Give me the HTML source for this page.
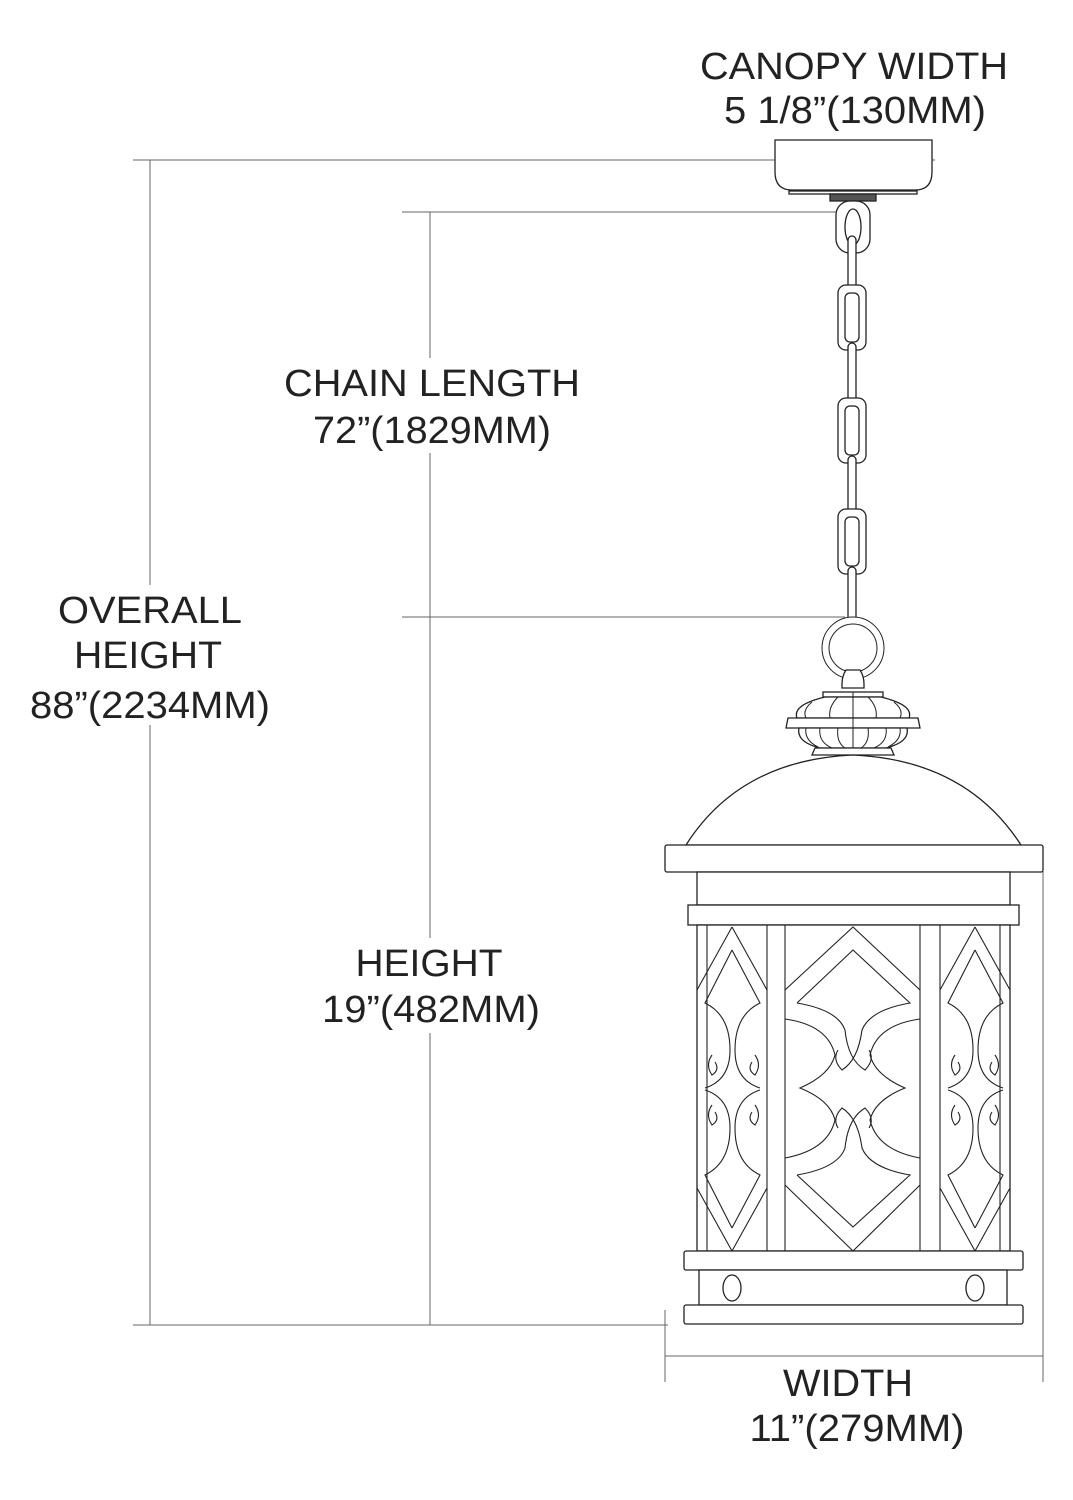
<!DOCTYPE html>
<html><head><meta charset="utf-8"><style>
html,body{margin:0;padding:0;background:#fff;}
svg{display:block;}
text{font-family:"Liberation Sans",sans-serif;font-size:38px;fill:#222;text-anchor:middle;}
</style></head><body>
<svg width="1073" height="1500" viewBox="0 0 1073 1500" xmlns="http://www.w3.org/2000/svg">
<g stroke="#666" stroke-width="1" fill="none">
<line x1="133" y1="160" x2="935" y2="160"/>
<line x1="150" y1="160" x2="150" y2="1325"/>
<line x1="133" y1="1325" x2="668" y2="1325"/>
<line x1="402" y1="212" x2="842" y2="212"/>
<line x1="402" y1="617" x2="845" y2="617"/>
<line x1="430" y1="212" x2="430" y2="1325"/>
<line x1="665" y1="1310" x2="665" y2="1382"/>
<line x1="1043" y1="860" x2="1043" y2="1382"/>
<line x1="665" y1="1356" x2="1043" y2="1356"/>
</g>
<rect x="25" y="585" width="250" height="140" fill="#fff"/>
<rect x="278" y="358" width="308" height="95" fill="#fff"/>
<rect x="315" y="938" width="230" height="95" fill="#fff"/>
<text x="854" y="79" textLength="308" lengthAdjust="spacingAndGlyphs">CANOPY WIDTH</text>
<text x="855" y="123" textLength="262" lengthAdjust="spacingAndGlyphs">5 1/8”(130MM)</text>
<text x="432" y="396" textLength="296" lengthAdjust="spacingAndGlyphs">CHAIN LENGTH</text>
<text x="432" y="443" textLength="238" lengthAdjust="spacingAndGlyphs">72”(1829MM)</text>
<text x="150" y="623" textLength="184" lengthAdjust="spacingAndGlyphs">OVERALL</text>
<text x="148" y="668" textLength="148" lengthAdjust="spacingAndGlyphs">HEIGHT</text>
<text x="150" y="718" textLength="240" lengthAdjust="spacingAndGlyphs">88”(2234MM)</text>
<text x="429" y="976" textLength="147" lengthAdjust="spacingAndGlyphs">HEIGHT</text>
<text x="431" y="1022" textLength="218" lengthAdjust="spacingAndGlyphs">19”(482MM)</text>
<text x="848" y="1396" textLength="130" lengthAdjust="spacingAndGlyphs">WIDTH</text>
<text x="857" y="1441" textLength="215" lengthAdjust="spacingAndGlyphs">11”(279MM)</text>
<g stroke="#222" stroke-width="1.3" fill="#fff">
<path d="M775,140 L932,140 L932,172 Q932,190 915,190 L792,190 Q775,190 775,172 Z"/>
<rect x="789" y="191" width="128" height="3"/>
<rect x="830" y="194" width="46" height="7" fill="#555"/>
<rect x="836" y="201" width="34" height="52" rx="14" ry="14"/>
<ellipse cx="853" cy="227" rx="8" ry="18"/>
<rect x="848" y="236" width="8" height="56" rx="4"/>
<rect x="838" y="285" width="28" height="65" rx="8"/>
<rect x="845" y="293" width="14" height="49" rx="5"/>
<rect x="848" y="343" width="8" height="62" rx="4"/>
<rect x="838" y="398" width="28" height="65" rx="8"/>
<rect x="845" y="406" width="14" height="49" rx="5"/>
<rect x="848" y="456" width="8" height="60" rx="4"/>
<rect x="838" y="509" width="28" height="65" rx="8"/>
<rect x="845" y="517" width="14" height="49" rx="5"/>
<rect x="848" y="567" width="8" height="64" rx="4"/>
<circle cx="853" cy="648" r="31" stroke-width="1"/>
<circle cx="853" cy="648" r="24" stroke-width="1"/>
<path d="M846,670 L860,670 Q864,676 864,684 L864,688 L842,688 L842,684 Q842,676 846,670 Z"/>
<rect x="823" y="692" width="60" height="5"/>
<path d="M825,697 Q792,705 797,718 L909,718 Q914,705 881,697 Z"/>
<path d="M788,718 L918,718 L920,728 L786,728 Z"/>
<path d="M799,728 Q796,742 820,748 L886,748 Q910,742 907,728 Z"/>
<g fill="none" stroke-width="1">
<path d="M838,697 Q828,707 830,718 M868,697 Q878,707 876,718 M812,702 Q802,710 806,718 M894,702 Q904,710 900,718"/>
<path d="M820,728 Q818,742 832,748 M886,728 Q888,742 874,748 M838,728 Q836,742 845,748 M868,728 Q870,742 861,748 M806,728 Q804,740 818,747 M900,728 Q902,740 888,747"/>
<line x1="853" y1="692" x2="853" y2="748"/>
</g>
<path d="M815,748 L891,748 L894,755 L812,755 Z"/>
<path d="M686,845 Q740,760 853,755 Q966,760 1021,845 Z"/>
<rect x="665" y="845" width="378" height="27" rx="2"/>
<rect x="697" y="872" width="313" height="33"/>
<rect x="688" y="905" width="331" height="20"/>
<rect x="697" y="925" width="313" height="326"/>
</g>
<g stroke="#222" stroke-width="1.1" fill="none">
<line x1="707" y1="925" x2="707" y2="1251"/>
<line x1="1000" y1="925" x2="1000" y2="1251"/>
<line x1="767" y1="925" x2="767" y2="1251"/>
<line x1="785" y1="925" x2="785" y2="1251"/>
<line x1="920" y1="925" x2="920" y2="1251"/>
<line x1="940" y1="925" x2="940" y2="1251"/>
<path d="M785,990 L853,927 L920,990"/>
<path d="M785,1185 L853,1251 L920,1185"/>
<path d="M797,1003 L853,950 L910,1003 Q870,1010 862,1030 Q858,1060 842,1070 Q832,1060 838,1050 M797,1003 Q838,1010 845,1030 Q848,1060 865,1070 Q875,1060 869,1050"/>
<path d="M797,1175 L853,1227 L910,1175 Q870,1168 862,1148 Q858,1118 842,1108 Q832,1118 838,1128 M797,1175 Q838,1168 845,1148 Q848,1118 865,1108 Q875,1118 869,1128"/>
<path d="M785,1019 Q828,1025 835,1055 Q830,1075 800,1088 Q830,1100 835,1120 Q828,1150 785,1158"/>
<path d="M920,1019 Q877,1025 870,1055 Q875,1075 905,1088 Q875,1100 870,1120 Q877,1150 920,1158"/>
<path d="M732,927 L767,990 M732,927 L697,990 M732,950 L760,1003 Q735,1015 735,1050 Q735,1080 760,1088 M732,950 L705,1003 Q730,1015 730,1050 Q730,1080 705,1088"/>
<path d="M732,1251 L767,1188 M732,1251 L697,1188 M732,1228 L760,1175 Q735,1163 735,1128 Q735,1098 760,1090 M732,1228 L705,1175 Q730,1163 730,1128 Q730,1098 705,1090"/>
<path d="M975,927 L1010,990 M975,927 L940,990 M975,950 L1003,1003 Q978,1015 978,1050 Q978,1080 1003,1088 M975,950 L948,1003 Q973,1015 973,1050 Q973,1080 948,1088"/>
<path d="M975,1251 L1010,1188 M975,1251 L940,1188 M975,1228 L1003,1175 Q978,1163 978,1128 Q978,1098 1003,1090 M975,1228 L948,1175 Q973,1163 973,1128 Q973,1098 948,1090"/>
<path d="M712,1055 Q705,1065 712,1075 Q720,1070 715,1062 M755,1055 Q762,1065 755,1075 Q747,1070 752,1062"/>
<path d="M712,1105 Q705,1115 712,1125 Q720,1120 715,1112 M755,1105 Q762,1115 755,1125 Q747,1120 752,1112"/>
<path d="M955,1055 Q948,1065 955,1075 Q963,1070 958,1062 M995,1055 Q1002,1065 995,1075 Q987,1070 992,1062"/>
<path d="M955,1105 Q948,1115 955,1125 Q963,1120 958,1112 M995,1105 Q1002,1115 995,1125 Q987,1120 992,1112"/>
</g>
<g stroke="#222" stroke-width="1.3" fill="#fff">
<rect x="684" y="1251" width="339" height="19" rx="2"/>
<rect x="699" y="1270" width="308" height="35"/>
<ellipse cx="732" cy="1288" rx="9" ry="13"/>
<ellipse cx="975" cy="1288" rx="9" ry="13"/>
<rect x="684" y="1305" width="339" height="19" rx="2"/>
</g>
</svg>
</body></html>
